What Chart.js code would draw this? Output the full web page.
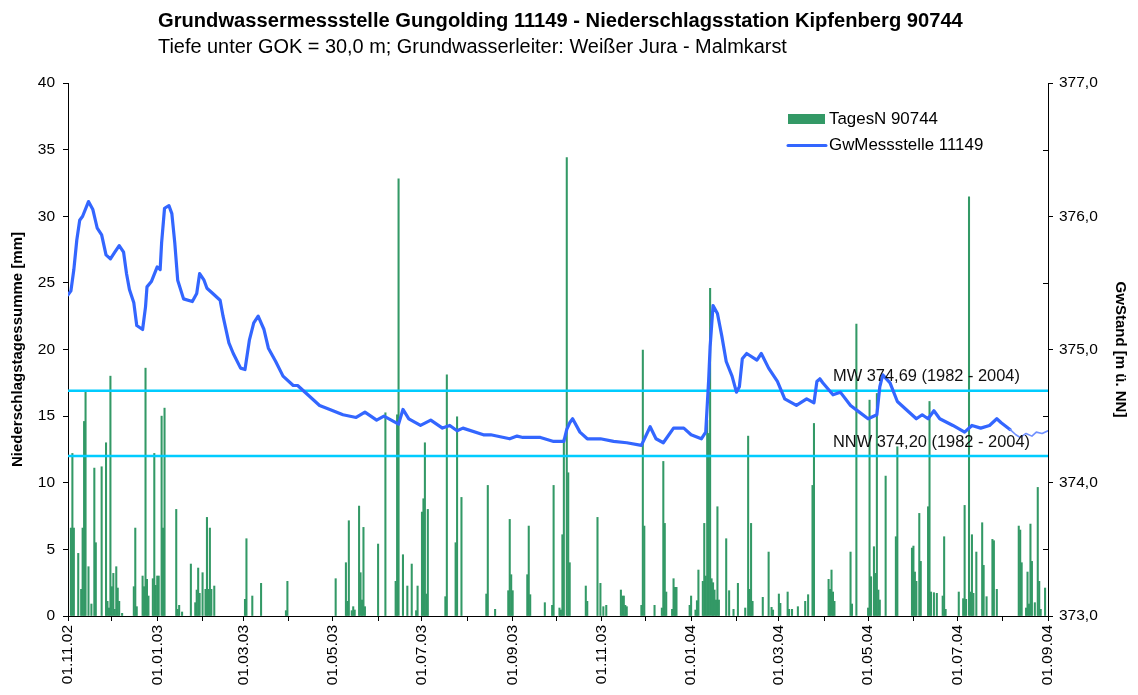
<!DOCTYPE html>
<html>
<head>
<meta charset="utf-8">
<title>Gungolding 11149 - Kipfenberg 90744</title>
<script src="https://cdn.jsdelivr.net/npm/chart.js@4.4.1/dist/chart.umd.min.js"></script>
<style>
  html, body { margin: 0; padding: 0; background: #fff; }
  #wrap { position: relative; width: 1138px; height: 695px; }
</style>
</head>
<body>
<div id="wrap"><canvas id="chart" width="1138" height="695"></canvas></div>
<script>
'use strict';

/* ── Data (day = days since 01.11.2002) ── */
const rainDay = [
  2, 3, 4, 7, 9, 10, 11, 12, 14, 16, 18, 19, 23, 26, 27, 28, 29, 30, 31, 32, 33, 34, 35, 37,
  45, 46, 47, 51, 52, 53, 54, 55, 58, 59, 60, 61, 62, 64, 65, 66, 74, 75, 76, 78,
  84, 87, 88, 89, 90, 92, 94, 95, 96, 97, 98, 100, 121, 122, 126, 132, 149, 150,
  183, 190, 191, 192, 194, 195, 196, 199, 200, 201, 202, 203, 212, 217, 224, 225, 226, 229,
  232, 235, 238, 239, 242, 243, 244, 245, 246, 258, 259, 265, 266, 269, 286, 287, 292,
  301, 302, 303, 304, 314, 315, 316, 326, 331, 332, 336, 337, 338, 339, 341, 342, 343,
  354, 355, 362, 364, 366, 368, 378, 379, 380, 381, 382, 392, 393, 394, 401, 406, 407, 408, 409,
  413, 414, 415, 416, 425, 426, 429, 430, 431, 434, 435, 436, 437, 438, 439, 440, 441, 442, 443,
  444, 445, 450, 452, 455, 458, 463, 465, 466, 467, 468, 475, 479, 481, 482, 486, 487, 492, 493,
  495, 499, 504, 506, 509, 510, 520, 521, 522, 523, 524, 535, 536, 539, 547, 548, 549, 551, 552,
  553, 554, 555, 559, 566, 567, 577, 578, 579, 580, 582, 583, 588, 589, 590, 592, 594, 598, 599,
  600, 609, 612, 613, 614, 616, 617, 618, 619, 621, 625, 626, 628, 632, 633, 635, 650, 651, 652,
  655, 656, 657, 658, 659, 661, 663, 664, 665, 668
];
const rainMm = [
  6.6, 12.2, 6.6, 4.7, 2.0, 6.6, 14.6, 16.8, 3.7, 0.9, 11.1, 5.5, 11.2, 13.0, 1.1, 0.6, 18.0, 2.2, 3.2, 0.5, 3.7, 2.1, 1.1, 0.2,
  2.2, 6.6, 0.7, 3.0, 2.2, 18.6, 2.75, 1.5, 2.8, 12.2, 2.3, 3.0, 3.0, 15.0, 6.6, 15.6, 8.0, 0.5, 0.8, 0.3,
  3.9, 1.0, 1.95, 3.6, 1.7, 3.25, 2.0, 7.4, 2.0, 6.6, 2.0, 2.25, 1.25, 5.8, 1.5, 2.45, 0.4, 2.6,
  2.8, 4.0, 1.1, 7.15, 0.4, 0.7, 0.45, 8.25, 3.25, 1.2, 6.65, 0.7, 5.4, 15.25, 2.6, 15.1, 32.8, 4.6,
  2.25, 3.9, 0.4, 2.25, 7.8, 8.8, 13.0, 1.65, 8.0, 1.45, 18.1, 5.5, 14.95, 8.9, 1.65, 9.8, 0.5,
  1.9, 7.25, 3.1, 1.9, 3.1, 6.75, 1.6, 1.0, 0.8, 9.8, 0.6, 0.45, 6.1, 13.3, 34.4, 10.75, 4.0,
  2.25, 1.1, 7.4, 2.45, 0.7, 0.8, 1.95, 1.5, 1.5, 0.8, 0.7, 0.8, 19.95, 6.75, 0.8, 0.6, 11.6, 6.95, 1.8,
  0.5, 2.8, 2.15, 2.15, 0.8, 1.5, 0.45, 1.15, 3.45, 2.6, 6.95, 3.0, 14.7, 13.7, 24.6, 2.8, 2.5, 1.95, 1.2,
  8.2, 1.2, 5.8, 1.9, 0.5, 2.45, 0.6, 13.5, 2.0, 6.95, 1.1, 1.4, 4.8, 0.65, 0.45, 1.65, 0.95, 1.8, 0.5,
  0.5, 0.7, 1.1, 1.6, 9.8, 14.45, 2.75, 2.0, 3.45, 1.8, 1.1, 4.8, 0.9, 21.9, 0.6, 16.2, 2.95, 5.2, 3.2,
  16.7, 1.95, 1.2, 10.5, 5.95, 12.7, 5.1, 5.25, 3.3, 2.6, 7.7, 4.1, 8.2, 16.1, 1.8, 1.75, 1.7, 1.5, 5.95,
  0.5, 1.8, 1.3, 8.3, 1.25, 31.45, 1.8, 6.1, 1.7, 4.8, 7.0, 3.8, 1.45, 5.75, 5.65, 2.0, 6.75, 6.45, 4.0,
  0.6, 3.3, 0.9, 6.9, 4.1, 1.0, 9.65, 2.6, 0.5, 2.1
];

const gwDay = [
  0, 2, 4, 6, 8, 10, 14, 17, 20, 23, 26, 29, 32, 35, 38, 40, 42, 45, 47, 51, 53, 54, 57, 61, 63,
  64, 66, 69, 71, 73, 75, 79, 85, 88, 90, 93, 95, 99, 104, 106, 110, 113, 118, 121, 124, 127,
  130, 134, 137, 142, 147, 154, 157, 163, 172, 179, 188, 197, 203, 211, 216, 221, 226, 229,
  233, 241, 248, 256, 261, 266, 270, 284, 289, 302, 307, 311, 323, 332, 339, 341, 343, 345,
  350, 355, 364, 373, 382, 392, 398, 402, 407, 414, 421, 426, 433, 436, 438, 439, 441, 444,
  447, 450, 454, 457, 459, 461, 464, 471, 474, 479, 485, 490, 498, 505, 510, 512, 514, 516,
  523, 528, 535, 541, 547, 553, 555, 557, 562, 567, 573, 580, 584, 588, 592, 596, 605, 613,
  618, 624, 630, 635, 638, 644, 648, 651, 655, 659, 662, 666, 670
];
const gwLevel = [
  375.41, 375.44, 375.60, 375.82, 375.97, 376.00, 376.11, 376.05, 375.91, 375.86, 375.71, 375.68, 375.73,
  375.78, 375.73, 375.57, 375.45, 375.35, 375.18, 375.15, 375.32, 375.47, 375.51, 375.62, 375.60,
  375.80, 376.06, 376.08, 376.02, 375.80, 375.52, 375.38, 375.36, 375.42, 375.57, 375.52, 375.46,
  375.42, 375.37, 375.25, 375.05, 374.97, 374.86, 374.85, 375.07, 375.20, 375.25, 375.15, 375.01,
  374.91, 374.80, 374.73, 374.73, 374.67, 374.58, 374.55, 374.51, 374.49, 374.53, 374.47, 374.50,
  374.47, 374.44, 374.55, 374.48, 374.43, 374.47, 374.41, 374.43, 374.39, 374.41, 374.36, 374.36,
  374.33, 374.35, 374.34, 374.34, 374.31, 374.31, 374.40, 374.45, 374.48, 374.38, 374.33, 374.33,
  374.31, 374.30, 374.28, 374.42, 374.33, 374.30, 374.41, 374.41, 374.36, 374.33, 374.38, 374.77,
  375.02, 375.33, 375.27, 375.10, 374.91, 374.80, 374.68, 374.72, 374.93, 374.97, 374.92, 374.97,
  374.86, 374.76, 374.63, 374.58, 374.63, 374.60, 374.76, 374.78, 374.75, 374.66, 374.68, 374.58,
  374.53, 374.48, 374.51, 374.72, 374.81, 374.75, 374.61, 374.55, 374.48, 374.51, 374.48, 374.54,
  374.48, 374.43, 374.38, 374.43, 374.41, 374.43, 374.48, 374.45, 374.40, 374.36, 374.34, 374.37,
  374.35, 374.38, 374.37, 374.39
];
const gwProvisionalFrom = 644;

const MW = 374.69;
const NNW = 374.20;
const mwLabel = 'MW 374,69 (1982 - 2004)';
const nnwLabel = 'NNW 374,20 (1982 - 2004)';

const xTickDay = [0, 30, 61, 92, 120, 151, 181, 212, 242, 273, 304, 334, 365, 395, 426, 457, 486, 517, 547, 578, 608, 639, 670];
const xTickLabel = ['01.11.02', '', '01.01.03', '', '01.03.03', '', '01.05.03', '', '01.07.03', '', '01.09.03', '',
                    '01.11.03', '', '01.01.04', '', '01.03.04', '', '01.05.04', '', '01.07.04', '', '01.09.04'];
const gwMinorTicks = [373.5, 374.5, 375.5, 376.5];

const TITLE = 'Grundwassermessstelle Gungolding 11149 - Niederschlagsstation Kipfenberg 90744';
const SUBTITLE = 'Tiefe unter GOK = 30,0 m; Grundwasserleiter: Weißer Jura - Malmkarst';

/* ── Style ── */
const FONT = "'Liberation Sans', Arial, sans-serif";
const GREEN = '#339966';
const BLUE = '#3366ff';
const CYAN = '#00ccff';

Chart.defaults.font.family = FONT;
Chart.defaults.color = '#000';

// set font size so the text fills a given width
function fitFont(ctx, text, width, weight, base) {
  ctx.font = `${weight} ${base}px ${FONT}`;
  const size = base * width / ctx.measureText(text).width;
  ctx.font = `${weight} ${size.toFixed(2)}px ${FONT}`;
}

/* ── Titles, legend, reference labels, minor ticks ── */
const decorPlugin = {
  id: 'decor',
  afterDatasetsDraw(chart) {
    const { ctx, scales } = chart;
    ctx.save();
    ctx.fillStyle = '#111';
    ctx.textAlign = 'left';
    ctx.textBaseline = 'middle';
    fitFont(ctx, mwLabel, 187, 'normal', 16);
    ctx.fillText(mwLabel, 833, scales.y1.getPixelForValue(MW) - 14);
    ctx.fillText(nnwLabel, 833, scales.y1.getPixelForValue(NNW) - 14);

    // inward minor ticks on the right axis
    const xr = scales.y1.left;
    ctx.strokeStyle = '#000';
    ctx.lineWidth = 1;
    ctx.beginPath();
    gwMinorTicks.forEach(v => {
      const py = Math.round(scales.y1.getPixelForValue(v)) + 0.5;
      ctx.moveTo(xr - 5, py);
      ctx.lineTo(xr, py);
    });
    ctx.stroke();
    ctx.restore();
  },
  afterDraw(chart) {
    const ctx = chart.ctx;
    ctx.save();
    ctx.fillStyle = '#000';
    ctx.textAlign = 'left';
    ctx.textBaseline = 'middle';
    fitFont(ctx, TITLE, 805, 'bold', 16);
    ctx.fillText(TITLE, 158, 21);
    fitFont(ctx, SUBTITLE, 629, 'normal', 16);
    ctx.fillText(SUBTITLE, 158, 48);

    // legend
    fitFont(ctx, 'TagesN 90744', 109, 'normal', 16);
    ctx.fillStyle = GREEN;
    ctx.fillRect(788, 114, 37, 10);
    ctx.fillStyle = '#000';
    ctx.fillText('TagesN 90744', 829, 119);
    ctx.strokeStyle = BLUE;
    ctx.lineWidth = 3;
    ctx.lineCap = 'round';
    ctx.beginPath();
    ctx.moveTo(788, 145.5);
    ctx.lineTo(826, 145.5);
    ctx.stroke();
    ctx.fillText('GwMessstelle 11149', 829, 145);
    ctx.restore();
  }
};

/* ── Chart ── */
const rainPoints = rainDay.map((d, i) => ({ x: d, y: rainMm[i] }));
const gwPoints = gwDay.map((d, i) => ({ x: d, y: gwLevel[i] }));
const flat = v => [{ x: xTickDay[0], y: v }, { x: xTickDay[xTickDay.length - 1], y: v }];

new Chart(document.getElementById('chart'), {
  type: 'bar',
  data: {
    datasets: [
      {
        type: 'line',
        label: 'GwMessstelle 11149',
        data: gwPoints,
        yAxisID: 'y1',
        borderColor: BLUE,
        borderWidth: 3.2,
        borderJoinStyle: 'round',
        borderCapStyle: 'round',
        pointRadius: 0,
        tension: 0,
        order: 0,
        segment: {
          borderWidth: c => c.p0.parsed.x >= gwProvisionalFrom ? 1.6 : 3.2,
          borderColor: c => c.p0.parsed.x >= gwProvisionalFrom ? '#7090ff' : BLUE
        }
      },
      {
        type: 'line', label: 'MW', data: flat(MW), yAxisID: 'y1',
        borderColor: CYAN, borderWidth: 2.5, pointRadius: 0, order: 1
      },
      {
        type: 'line', label: 'NNW', data: flat(NNW), yAxisID: 'y1',
        borderColor: CYAN, borderWidth: 2.5, pointRadius: 0, order: 1
      },
      {
        label: 'TagesN 90744',
        data: rainPoints,
        yAxisID: 'y',
        backgroundColor: GREEN,
        barThickness: 1.4,
        order: 2
      }
    ]
  },
  options: {
    responsive: false,
    animation: false,
    devicePixelRatio: 1,
    layout: { padding: { top: 83, left: 0, right: 0, bottom: 0 } },
    plugins: { legend: { display: false }, tooltip: { enabled: false }, title: { display: false } },
    scales: {
      x: {
        type: 'linear',
        min: xTickDay[0],
        max: xTickDay[xTickDay.length - 1],
        offset: false,
        afterBuildTicks: s => { s.ticks = xTickDay.map(v => ({ value: v })); },
        afterFit: s => { s.height = 79; },
        grid: { drawOnChartArea: false, tickLength: 5, color: '#000', offset: false },
        border: { color: '#000', width: 1 },
        ticks: {
          autoSkip: false, minRotation: 90, maxRotation: 90, padding: 4,
          font: { size: 15.5 }, color: '#000',
          callback: (v, i) => xTickLabel[i]
        }
      },
      y: {
        position: 'left',
        min: 0, max: 40,
        afterFit: s => { s.width = 68; },
        grid: { drawOnChartArea: false, tickLength: 5, color: '#000' },
        border: { color: '#000', width: 1 },
        ticks: { stepSize: 5, font: { size: 15.5 }, color: '#000', padding: 8 },
        title: {
          display: true, text: 'Niederschlagstagessumme [mm]',
          font: { size: 15, weight: 'bold' }, color: '#000', padding: { top: 9 }
        }
      },
      y1: {
        position: 'right',
        min: 373, max: 377,
        afterFit: s => { s.width = 90; },
        grid: { drawOnChartArea: false, tickLength: 5, color: '#000' },
        border: { color: '#000', width: 1 },
        ticks: {
          stepSize: 1, font: { size: 15.5 }, color: '#000', padding: 6,
          callback: v => v.toFixed(1).replace('.', ',')
        },
        title: {
          display: true, text: 'GwStand [m ü. NN]',
          font: { size: 15, weight: 'bold' }, color: '#000', padding: { top: 9 }
        }
      }
    }
  },
  plugins: [decorPlugin]
});
</script>
</body>
</html>
